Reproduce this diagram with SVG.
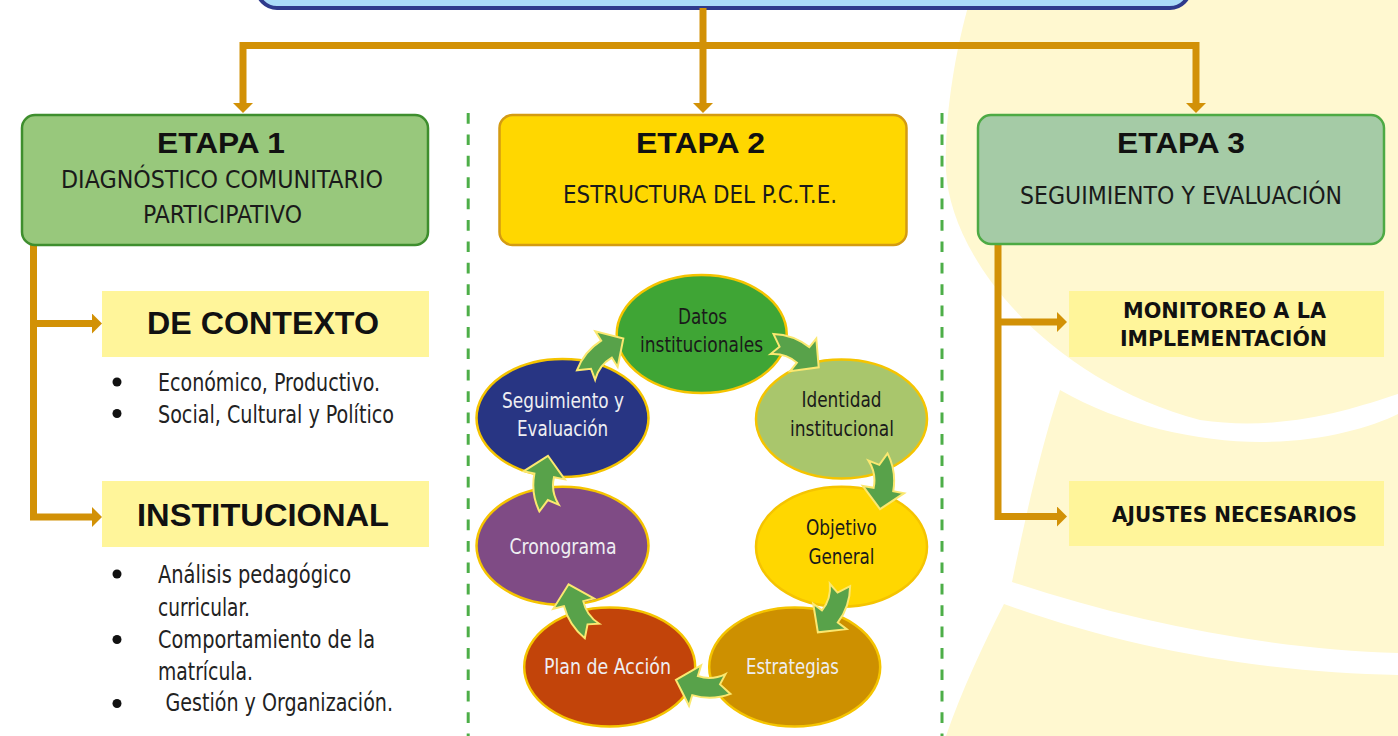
<svg xmlns="http://www.w3.org/2000/svg" width="1398" height="736" viewBox="0 0 1398 736">
<defs>
<style>
.bg{fill:#FFF8D0;}
.conn{fill:none;stroke:#D29106;stroke-width:7;stroke-linejoin:miter;}
.dash{stroke:#4DAE48;stroke-width:3;stroke-dasharray:10.7 10.7;}
.stage-title{font-family:"Liberation Sans",Arial,sans-serif;font-weight:bold;font-size:30px;fill:#111;}
.cond{font-family:"Liberation Sans Narrow","DejaVu Sans Condensed","Liberation Sans",Arial,sans-serif;}
.sub{font-size:25px;fill:#1a1a1a;}
.list{font-size:24px;fill:#222;}
.cyc{font-size:21px;}
.dark{fill:#1a1a1a;}
.light{fill:#EEEEF2;}
.lbl{font-family:"Liberation Sans",Arial,sans-serif;font-weight:bold;font-size:32px;fill:#111;}
.lbl2{font-family:"DejaVu Sans","Liberation Sans",sans-serif;font-weight:bold;font-size:22px;fill:#111;}
.subbox{fill:#FFF59A;}
.ell{stroke:#F5C400;stroke-width:2.5;}
.carrow{fill:#58A24A;stroke:#FBE870;stroke-width:2;stroke-linejoin:miter;}
</style>
<marker id="ah" viewBox="0 0 10 20" refX="0" refY="10" markerWidth="10" markerHeight="20" markerUnits="userSpaceOnUse" orient="auto">
<path d="M0,0 L10,10 L0,20 Z" fill="#D29106"/>
</marker>
<path id="cyc-arrow" d="M-2,-10 Q17,-16 36.3,-9.4 L40,-19.8 L51.8,6.6 L26,19.8 L29.7,9.4 Q16,4 2,10 L8,0 Z"/>
</defs>

<g id="background">
<rect x="0" y="0" width="1398" height="736" fill="#FFFFFF"/>
<path class="bg" d="M970,0 C955,50 944,120 946,170 C950,260 1050,380 1200,420 C1280,432 1350,410 1398,394 L1398,0 Z"/>
<path class="bg" d="M1060,390 C1120,425 1200,442 1260,442 C1320,442 1370,428 1398,414 L1398,653 C1280,650 1140,625 1012,582 C1025,520 1040,450 1060,390 Z"/>
<path class="bg" d="M1004,604 C1130,650 1270,673 1398,675 L1398,736 L946,736 C962,690 983,645 1004,604 Z"/>
</g>

<g id="top-box">
<rect x="257" y="-40" width="933" height="48" rx="20" fill="#AADBF8" stroke="#2E3A8C" stroke-width="4"/>
</g>

<g id="connectors">
<path class="conn" d="M703,8 L703,103" marker-end="url(#ah)"/>
<path class="conn" d="M243,103 L243,45.5 L1196,45.5 L1196,103"/>
<path d="M233,103 L253,103 L243,113 Z" fill="#D29106"/>
<path d="M1186,103 L1206,103 L1196,113 Z" fill="#D29106"/>
<path class="conn" d="M33.5,245 L33.5,517 L92,517" marker-end="url(#ah)"/>
<path class="conn" d="M33.5,323.5 L92,323.5" marker-end="url(#ah)"/>
<path class="conn" d="M998,244 L998,516.5 L1057,516.5" marker-end="url(#ah)"/>
<path class="conn" d="M998,322 L1057,322" marker-end="url(#ah)"/>
<line class="dash" x1="468.2" y1="113" x2="468.2" y2="736"/>
<line class="dash" x1="942" y1="113" x2="942" y2="736"/>
</g>

<g id="etapa1">
<rect x="22" y="115" width="406" height="130" rx="13" fill="#98C87C" stroke="#3E8E2E" stroke-width="2.5"/>
<text class="stage-title" x="157" y="153" textLength="128" lengthAdjust="spacingAndGlyphs">ETAPA 1</text>
<text class="cond sub" x="61" y="188" textLength="322" lengthAdjust="spacingAndGlyphs">DIAGNÓSTICO COMUNITARIO</text>
<text class="cond sub" x="143" y="223" textLength="159" lengthAdjust="spacingAndGlyphs">PARTICIPATIVO</text>
</g>

<g id="de-contexto">
<rect class="subbox" x="102" y="291" width="327" height="66"/>
<text class="lbl" x="147" y="334" textLength="232" lengthAdjust="spacingAndGlyphs">DE CONTEXTO</text>
<circle cx="117" cy="382" r="4.5" fill="#111"/>
<circle cx="117" cy="413.5" r="4.5" fill="#111"/>
<text class="cond list" x="158" y="391" textLength="222" lengthAdjust="spacingAndGlyphs">Económico, Productivo.</text>
<text class="cond list" x="158" y="423" textLength="236" lengthAdjust="spacingAndGlyphs">Social, Cultural y Político</text>
</g>

<g id="institucional">
<rect class="subbox" x="102" y="481" width="327" height="66"/>
<text class="lbl" x="137" y="526" textLength="252" lengthAdjust="spacingAndGlyphs">INSTITUCIONAL</text>
<circle cx="117" cy="574" r="4.5" fill="#111"/>
<circle cx="117" cy="639.5" r="4.5" fill="#111"/>
<circle cx="117" cy="703.5" r="4.5" fill="#111"/>
<text class="cond list" x="158" y="582.5" textLength="193" lengthAdjust="spacingAndGlyphs">Análisis pedagógico</text>
<text class="cond list" x="158" y="615.5" textLength="92" lengthAdjust="spacingAndGlyphs">curricular.</text>
<text class="cond list" x="158" y="647.5" textLength="217" lengthAdjust="spacingAndGlyphs">Comportamiento de la</text>
<text class="cond list" x="158" y="679.5" textLength="95" lengthAdjust="spacingAndGlyphs">matrícula.</text>
<text class="cond list" x="165.5" y="711" textLength="227.5" lengthAdjust="spacingAndGlyphs">Gestión y Organización.</text>
</g>

<g id="etapa2">
<rect x="499.5" y="115" width="407" height="130" rx="13" fill="#FFD700" stroke="#D49B12" stroke-width="2.5"/>
<text class="stage-title" x="636" y="153" textLength="129" lengthAdjust="spacingAndGlyphs">ETAPA 2</text>
<text class="cond sub" x="563" y="203" textLength="274" lengthAdjust="spacingAndGlyphs">ESTRUCTURA DEL P.C.T.E.</text>
</g>

<g id="datos">
<ellipse class="ell" cx="701.7" cy="334" rx="85" ry="59" fill="#3FA535"/>
<text class="cond cyc dark" x="678" y="323.5" textLength="49" lengthAdjust="spacingAndGlyphs">Datos</text>
<text class="cond cyc dark" x="640" y="351.5" textLength="123" lengthAdjust="spacingAndGlyphs">institucionales</text>
</g>
<g id="identidad">
<ellipse class="ell" cx="841.5" cy="419" rx="85.5" ry="59.5" fill="#A9C66C"/>
<text class="cond cyc dark" x="801.5" y="407" textLength="80" lengthAdjust="spacingAndGlyphs">Identidad</text>
<text class="cond cyc dark" x="790" y="436" textLength="104" lengthAdjust="spacingAndGlyphs">institucional</text>
</g>
<g id="objetivo">
<ellipse class="ell" cx="841.5" cy="546.7" rx="85.5" ry="60" fill="#FFD700"/>
<text class="cond cyc dark" x="806" y="534.5" textLength="71" lengthAdjust="spacingAndGlyphs">Objetivo</text>
<text class="cond cyc dark" x="808.5" y="563.5" textLength="66" lengthAdjust="spacingAndGlyphs">General</text>
</g>
<g id="estrategias">
<ellipse class="ell" cx="794.7" cy="667" rx="85.5" ry="59.5" fill="#CD9000"/>
<text class="cond cyc light" x="746" y="673.5" textLength="93" lengthAdjust="spacingAndGlyphs">Estrategias</text>
</g>
<g id="plan">
<ellipse class="ell" cx="609.7" cy="667" rx="85.5" ry="59.5" fill="#C2440A"/>
<text class="cond cyc light" x="544" y="673.5" textLength="127" lengthAdjust="spacingAndGlyphs">Plan de Acción</text>
</g>
<g id="cronograma">
<ellipse class="ell" cx="562.5" cy="545.8" rx="86" ry="59" fill="#7F4B85"/>
<text class="cond cyc light" x="509.5" y="554" textLength="107" lengthAdjust="spacingAndGlyphs">Cronograma</text>
</g>
<g id="seguimiento">
<ellipse class="ell" cx="562.5" cy="418" rx="86" ry="59" fill="#283583"/>
<text class="cond cyc light" x="502" y="408" textLength="122" lengthAdjust="spacingAndGlyphs">Seguimiento y</text>
<text class="cond cyc light" x="517" y="436" textLength="91" lengthAdjust="spacingAndGlyphs">Evaluación</text>
</g>

<g id="cycle-connectors">
<use href="#cyc-arrow" class="carrow" transform="translate(586,375) rotate(-51.6)"/>
<use href="#cyc-arrow" class="carrow" transform="translate(772,344) rotate(19.3)"/>
<use href="#cyc-arrow" class="carrow" transform="translate(878,457) rotate(80.5)"/>
<use href="#cyc-arrow" class="carrow" transform="translate(840,585) rotate(107.8)"/>
<use href="#cyc-arrow" class="carrow" transform="translate(728,684) rotate(177.2)"/>
<use href="#cyc-arrow" class="carrow" transform="translate(592,631) rotate(236.1)"/>
<use href="#cyc-arrow" class="carrow" transform="translate(549,508) rotate(261.6)"/>
</g>

<g id="etapa3">
<rect x="978" y="115" width="406" height="129" rx="13" fill="#A5CBA6" stroke="#4DAA44" stroke-width="2.5"/>
<text class="stage-title" x="1117" y="153" textLength="128" lengthAdjust="spacingAndGlyphs">ETAPA 3</text>
<text class="cond sub" x="1020" y="204" textLength="322" lengthAdjust="spacingAndGlyphs">SEGUIMIENTO Y EVALUACIÓN</text>
</g>

<g id="monitoreo">
<rect class="subbox" x="1069" y="291" width="315" height="66"/>
<text class="lbl2" x="1123" y="318" textLength="203" lengthAdjust="spacingAndGlyphs">MONITOREO A LA</text>
<text class="lbl2" x="1120" y="346" textLength="207" lengthAdjust="spacingAndGlyphs">IMPLEMENTACIÓN</text>
</g>

<g id="ajustes">
<rect class="subbox" x="1069" y="481" width="315" height="65"/>
<text class="lbl2" x="1112" y="522" textLength="245" lengthAdjust="spacingAndGlyphs">AJUSTES NECESARIOS</text>
</g>
</svg>
